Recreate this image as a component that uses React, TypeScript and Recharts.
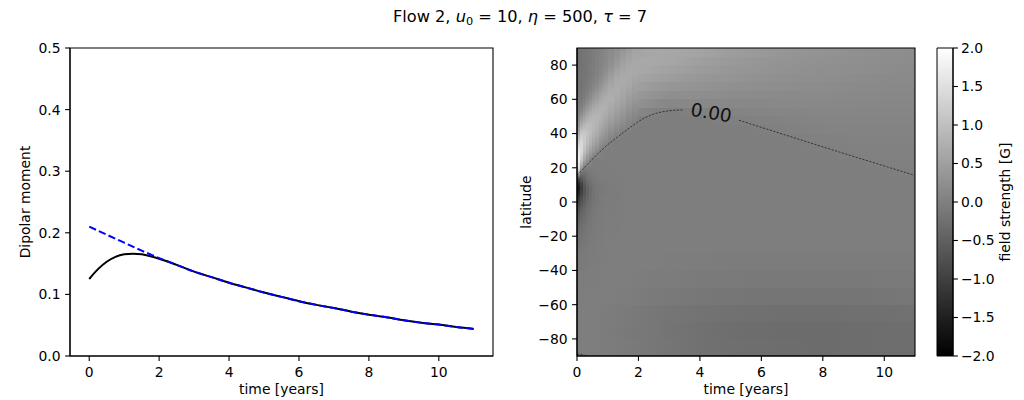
import { ComposedChart, Line, XAxis, YAxis, ReferenceArea, ReferenceDot } from 'recharts'

const FONT = '"DejaVu Sans", sans-serif'

// left panel: dipolar moment over time
const BLACK_T = [0, 0.25, 0.5, 0.75, 1, 1.25, 1.5, 1.75, 2, 2.5, 3, 3.5, 4, 4.5, 5, 5.5, 6, 6.5, 7, 7.5, 8, 8.5, 9, 9.5, 10, 10.5, 11]
const BLACK_V = [0.125, 0.141, 0.153, 0.161, 0.165, 0.166, 0.165, 0.162, 0.158, 0.148, 0.137, 0.128, 0.119, 0.111, 0.103, 0.096, 0.089, 0.083, 0.078, 0.072, 0.067, 0.063, 0.058, 0.054, 0.051, 0.047, 0.044]
const BLUE_T = [0, 0.5, 1, 1.5, 2, 2.5, 3, 3.5, 4, 4.5, 5, 5.5, 6, 6.5, 7, 7.5, 8, 8.5, 9, 9.5, 10, 10.5, 11]
const BLUE_V = [0.21, 0.197, 0.184, 0.171, 0.159, 0.148, 0.137, 0.128, 0.119, 0.111, 0.103, 0.096, 0.089, 0.083, 0.078, 0.072, 0.067, 0.063, 0.058, 0.054, 0.051, 0.047, 0.044]
const TIME_TICKS = [0, 2, 4, 6, 8, 10]
const MOMENT_TICKS = [0, 0.1, 0.2, 0.3, 0.4, 0.5]

// right panel, base layer: latitude bands, each sampled along time at ROW_T
const ROW_T = [0, 0.5, 1, 1.5, 2, 2.5, 3, 4, 5, 6, 7, 8, 9, 10, 11]
const LAT_EDGES = [90, 85, 80, 75, 70, 65, 60, 55, 50, 45, 40, 35, 30, 25, 20, 15, 10, 5, 0, -10, -20, -30, -40, -50, -60, -70, -80, -90]
const ROWS = [
  [-0.22, -0.08, 0.14, 0.38, 0.58, 0.62, 0.62, 0.56, 0.47, 0.4, 0.34, 0.3, 0.26, 0.23, 0.21],
  [-0.22, -0.05, 0.2, 0.48, 0.64, 0.64, 0.6, 0.5, 0.42, 0.36, 0.31, 0.27, 0.24, 0.21, 0.19],
  [-0.21, 0.02, 0.3, 0.6, 0.63, 0.59, 0.54, 0.44, 0.37, 0.32, 0.28, 0.25, 0.22, 0.19, 0.17],
  [-0.2, 0.08, 0.45, 0.66, 0.57, 0.52, 0.46, 0.37, 0.32, 0.28, 0.24, 0.22, 0.2, 0.17, 0.16],
  [-0.18, 0.2, 0.62, 0.66, 0.49, 0.42, 0.36, 0.3, 0.26, 0.23, 0.21, 0.19, 0.17, 0.15, 0.14],
  [-0.14, 0.4, 0.71, 0.58, 0.39, 0.31, 0.24, 0.22, 0.2, 0.18, 0.17, 0.16, 0.15, 0.13, 0.12],
  [-0.06, 0.65, 0.74, 0.48, 0.27, 0.18, 0.12, 0.13, 0.13, 0.13, 0.13, 0.13, 0.12, 0.11, 0.1],
  [0.1, 0.84, 0.66, 0.35, 0.13, 0.03, -0.02, 0.03, 0.06, 0.08, 0.09, 0.1, 0.1, 0.09, 0.08],
  [0.3, 0.86, 0.55, 0.22, -0.01, -0.02, -0.02, -0.02, 0, 0.03, 0.06, 0.07, 0.07, 0.07, 0.07],
  [0.7, 0.72, 0.35, 0.06, -0.02, -0.03, -0.03, -0.03, -0.02, -0.01, 0.03, 0.05, 0.05, 0.05, 0.05],
  [1.1, 0.55, 0.14, -0.02, -0.03, -0.03, -0.03, -0.03, -0.03, -0.03, -0.01, 0.03, 0.04, 0.04, 0.04],
  [1.45, 0.38, 0.02, -0.03, -0.03, -0.03, -0.03, -0.03, -0.03, -0.03, -0.03, 0, 0.02, 0.03, 0.03],
  [1.75, 0.15, -0.03, -0.03, -0.03, -0.03, -0.03, -0.03, -0.03, -0.03, -0.03, -0.02, 0, 0.02, 0.02],
  [1.6, -0.02, -0.04, -0.03, -0.03, -0.03, -0.03, -0.03, -0.03, -0.03, -0.03, -0.03, -0.02, 0, 0.01],
  [0.9, -0.05, -0.04, -0.03, -0.03, -0.03, -0.03, -0.03, -0.03, -0.03, -0.03, -0.03, -0.03, -0.02, 0],
  [-0.9, -0.12, -0.05, -0.04, -0.03, -0.03, -0.03, -0.03, -0.03, -0.03, -0.03, -0.03, -0.03, -0.03, -0.03],
  [-1.5, -0.2, -0.07, -0.05, -0.03, -0.03, -0.03, -0.03, -0.03, -0.03, -0.03, -0.03, -0.03, -0.03, -0.03],
  [-1.1, -0.18, -0.06, -0.05, -0.03, -0.03, -0.03, -0.03, -0.03, -0.03, -0.03, -0.03, -0.03, -0.03, -0.03],
  [-0.6, -0.12, -0.05, -0.04, -0.03, -0.03, -0.03, -0.03, -0.03, -0.03, -0.03, -0.03, -0.03, -0.03, -0.03],
  [-0.3, -0.08, -0.04, -0.03, -0.03, -0.03, -0.03, -0.03, -0.03, -0.03, -0.03, -0.03, -0.03, -0.03, -0.03],
  [-0.15, -0.06, -0.04, -0.03, -0.03, -0.03, -0.03, -0.03, -0.03, -0.03, -0.03, -0.03, -0.03, -0.03, -0.03],
  [-0.1, -0.05, -0.03, -0.03, -0.03, -0.03, -0.04, -0.04, -0.05, -0.05, -0.05, -0.05, -0.05, -0.05, -0.05],
  [-0.06, -0.04, -0.03, -0.03, -0.04, -0.05, -0.06, -0.08, -0.09, -0.1, -0.1, -0.1, -0.1, -0.09, -0.09],
  [-0.04, -0.03, -0.03, -0.04, -0.06, -0.08, -0.1, -0.13, -0.15, -0.16, -0.17, -0.17, -0.16, -0.15, -0.14],
  [-0.03, -0.03, -0.05, -0.07, -0.1, -0.13, -0.16, -0.2, -0.23, -0.25, -0.26, -0.26, -0.25, -0.24, -0.23],
  [-0.02, -0.03, -0.06, -0.08, -0.11, -0.14, -0.18, -0.23, -0.27, -0.29, -0.3, -0.3, -0.29, -0.28, -0.27],
  [-0.02, -0.03, -0.05, -0.07, -0.1, -0.13, -0.17, -0.22, -0.26, -0.28, -0.29, -0.3, -0.29, -0.28, -0.27],
]

// right panel, detail layer for the first two years: time strips, each sampled along latitude at COL_LAT
const COL_EDGES = [0, 0.1, 0.2, 0.3, 0.4, 0.5, 0.6, 0.7, 0.8, 0.9, 1.0, 1.2, 1.4, 1.6, 1.8, 2.0]
const COL_LAT = [90, 85, 80, 75, 70, 65, 60, 55, 50, 45, 40, 35, 30, 25, 20, 17, 14, 11, 8, 5, 2, -5, -15, -30]
const COLUMNS = [
  [-0.22, -0.22, -0.22, -0.21, -0.2, -0.18, -0.14, -0.06, 0.08, 0.32, 0.72, 1.2, 1.62, 1.8, 1.5, 0.7, -0.7, -1.35, -1.55, -1.4, -1.1, -0.62, -0.3, -0.12],
  [-0.2, -0.2, -0.2, -0.2, -0.19, -0.17, -0.11, 0.03, 0.3, 0.69, 1.12, 1.41, 1.42, 1.15, 0.45, -0.2, -0.55, -0.9, -1.05, -0.95, -0.78, -0.45, -0.25, -0.1],
  [-0.17, -0.17, -0.17, -0.17, -0.15, -0.11, -0.01, 0.19, 0.5, 0.86, 1.13, 1.19, 1.0, 0.6, -0.05, -0.25, -0.4, -0.55, -0.68, -0.65, -0.55, -0.35, -0.2, -0.08],
  [-0.14, -0.14, -0.14, -0.13, -0.1, -0.04, 0.11, 0.35, 0.67, 0.94, 1.05, 0.97, 0.73, 0.32, -0.06, -0.15, -0.25, -0.36, -0.45, -0.44, -0.38, -0.25, -0.15, -0.07],
  [-0.1, -0.1, -0.09, -0.08, -0.04, 0.06, 0.24, 0.5, 0.77, 0.93, 0.93, 0.79, 0.51, 0.11, -0.05, -0.1, -0.16, -0.24, -0.3, -0.3, -0.27, -0.18, -0.11, -0.06],
  [-0.06, -0.06, -0.05, -0.03, 0.04, 0.17, 0.38, 0.63, 0.82, 0.88, 0.8, 0.62, 0.34, -0.02, -0.05, -0.07, -0.11, -0.16, -0.2, -0.2, -0.18, -0.13, -0.09, -0.05],
  [-0.02, -0.015, 0, 0.04, 0.12, 0.28, 0.5, 0.71, 0.83, 0.8, 0.69, 0.49, 0.19, -0.03, -0.04, -0.05, -0.08, -0.11, -0.14, -0.14, -0.13, -0.1, -0.07, -0.04],
  [0.03, 0.04, 0.06, 0.12, 0.23, 0.41, 0.61, 0.76, 0.79, 0.68, 0.51, 0.29, 0.04, -0.03, -0.04, -0.05, -0.06, -0.08, -0.1, -0.1, -0.09, -0.07, -0.05, -0.04],
  [0.075, 0.087, 0.12, 0.2, 0.33, 0.52, 0.69, 0.78, 0.72, 0.59, 0.41, 0.19, -0.01, -0.03, -0.04, -0.04, -0.05, -0.07, -0.08, -0.08, -0.07, -0.06, -0.05, -0.04],
  [0.11, 0.13, 0.18, 0.28, 0.44, 0.61, 0.73, 0.74, 0.65, 0.5, 0.32, 0.11, -0.02, -0.03, -0.04, -0.04, -0.05, -0.06, -0.07, -0.07, -0.06, -0.05, -0.04, -0.03],
  [0.16, 0.2, 0.28, 0.41, 0.56, 0.69, 0.73, 0.65, 0.53, 0.38, 0.2, 0, -0.03, -0.03, -0.04, -0.04, -0.04, -0.05, -0.06, -0.06, -0.05, -0.05, -0.04, -0.03],
  [0.25, 0.31, 0.42, 0.55, 0.66, 0.7, 0.64, 0.54, 0.41, 0.26, 0.09, -0.02, -0.03, -0.03, -0.03, -0.04, -0.04, -0.04, -0.05, -0.05, -0.05, -0.04, -0.04, -0.03],
  [0.34, 0.43, 0.54, 0.64, 0.68, 0.64, 0.55, 0.44, 0.3, 0.15, -0.01, -0.03, -0.03, -0.03, -0.03, -0.03, -0.03, -0.04, -0.04, -0.04, -0.04, -0.04, -0.03, -0.03],
  [0.45, 0.53, 0.62, 0.66, 0.63, 0.55, 0.45, 0.34, 0.2, 0.05, -0.02, -0.03, -0.03, -0.03, -0.03, -0.03, -0.03, -0.03, -0.03, -0.03, -0.03, -0.03, -0.03, -0.03],
  [0.54, 0.61, 0.65, 0.63, 0.56, 0.48, 0.37, 0.25, 0.11, -0.01, -0.02, -0.03, -0.03, -0.03, -0.03, -0.03, -0.03, -0.03, -0.03, -0.03, -0.03, -0.03, -0.03, -0.03],
]

// zero contour (split around its label)
const CONTOUR_A_T = [0, 0.25, 0.5, 0.75, 1, 1.25, 1.5, 1.75, 2, 2.25, 2.5, 2.75, 3, 3.45]
const CONTOUR_A_LAT = [15.6, 20.3, 25, 29.5, 33.5, 37, 40.5, 43.8, 47, 49.6, 51.4, 52.6, 53.3, 53.8]
const CONTOUR_B_T = [5.27, 8, 11]
const CONTOUR_B_LAT = [47.8, 32.2, 15.5]
const CONTOUR_C_T = [0, 0.15, 0.3]
const CONTOUR_C_LAT = [-89, -89, -90]
const CONTOUR_LABEL = { t: 4.37, lat: 52.2, text: '0.00' }
const LAT_TICKS = [-80, -60, -40, -20, 0, 20, 40, 60, 80]
const FIELD_TICKS = [-2, -1.5, -1, -0.5, 0, 0.5, 1, 1.5, 2]

const T_MAX = 11

const gray = (v: number) => {
  const l = Math.round(Math.max(0, Math.min(1, (v + 2) / 4)) * 255)
  return `rgb(${l},${l},${l})`
}
const minus = (s: string) => s.replace('-', '\u2212')

const pairs = (ts: number[], vs: number[], key: string) => ts.map((t, i) => ({ t, [key]: vs[i] }))

const tickStyle = { fill: '#000', fontSize: 13.9, fontFamily: FONT }
const axisProps = {
  tick: tickStyle,
  tickLine: { stroke: '#000', strokeWidth: 1.1 },
  axisLine: { stroke: '#000', strokeWidth: 1.1 },
  tickSize: 4.9,
}
const contourStyle = {
  stroke: '#222',
  strokeWidth: 0.8,
  strokeDasharray: '2.2 1.4',
  dot: false,
  isAnimationActive: false,
}

export default function App() {
  const black = pairs(BLACK_T, BLACK_V, 'v')
  const blue = pairs(BLUE_T, BLUE_V, 'v')
  const contourA = pairs(CONTOUR_A_T, CONTOUR_A_LAT, 'lat')
  const contourB = pairs(CONTOUR_B_T, CONTOUR_B_LAT, 'lat')
  const contourC = pairs(CONTOUR_C_T, CONTOUR_C_LAT, 'lat')
  const latTop = COL_LAT[0]
  const latBottom = COL_LAT[COL_LAT.length - 1]

  return (
    <div
      style={{
        position: 'absolute',
        left: 0,
        top: 0,
        width: 1024,
        height: 400,
        background: '#fff',
        fontFamily: FONT,
      }}
    >
      <div style={{ position: 'absolute', left: 0, top: 0 }}>
        <ComposedChart width={512} height={400} margin={{ top: 48, right: 19, bottom: 0, left: 10 }}>
          <XAxis
            type='number'
            dataKey='t'
            domain={[-0.55, 11.55]}
            ticks={TIME_TICKS}
            allowDataOverflow
            height={44}
            tickMargin={6}
            {...axisProps}
          />
          <YAxis
            type='number'
            domain={[0, 0.5]}
            ticks={MOMENT_TICKS}
            allowDataOverflow
            width={60}
            tickMargin={4.5}
            tickFormatter={(v: number) => v.toFixed(1)}
            {...axisProps}
          />
          <Line
            data={black}
            dataKey='v'
            type='monotone'
            stroke='#000'
            strokeWidth={2}
            dot={false}
            isAnimationActive={false}
          />
          <Line
            data={blue}
            dataKey='v'
            type='monotone'
            stroke='#0000ff'
            strokeWidth={2}
            strokeDasharray='7.4 3.2'
            dot={false}
            isAnimationActive={false}
          />
          <ReferenceArea x1={-0.55} x2={11.55} y1={0} y2={0.5} fill='none' fillOpacity={0} stroke='#000' strokeWidth={1.1} />
        </ComposedChart>
      </div>

      <div style={{ position: 'absolute', left: 512, top: 0 }}>
        <ComposedChart width={420} height={400} margin={{ top: 48, right: 17, bottom: 0, left: 0 }}>
          <defs>
            {ROWS.map((row, i) => (
              <linearGradient key={i} id={`heat-row-${i}`} x1='0' y1='0' x2='1' y2='0'>
                {row.map((v, j) => (
                  <stop key={j} offset={ROW_T[j] / T_MAX} stopColor={gray(v)} />
                ))}
              </linearGradient>
            ))}
            {COLUMNS.map((col, i) => (
              <linearGradient key={i} id={`heat-col-${i}`} x1='0' y1='0' x2='0' y2='1'>
                {col.map((v, j) => (
                  <stop key={j} offset={(latTop - COL_LAT[j]) / (latTop - latBottom)} stopColor={gray(v)} />
                ))}
              </linearGradient>
            ))}
          </defs>
          <XAxis
            type='number'
            dataKey='t'
            domain={[0, T_MAX]}
            ticks={TIME_TICKS}
            allowDataOverflow
            height={44}
            tickMargin={6}
            {...axisProps}
          />
          <YAxis
            type='number'
            domain={[-90, 90]}
            ticks={LAT_TICKS}
            allowDataOverflow
            width={65}
            tickMargin={4.5}
            tickFormatter={(v: number) => minus(String(v))}
            {...axisProps}
          />
          {ROWS.map((_, i) => (
            <ReferenceArea
              key={`r${i}`}
              x1={0}
              x2={T_MAX}
              y1={LAT_EDGES[i + 1]}
              y2={LAT_EDGES[i]}
              fill={`url(#heat-row-${i})`}
              fillOpacity={1}
              stroke='none'
              shapeRendering='crispEdges'
            />
          ))}
          {COLUMNS.map((_, i) => (
            <ReferenceArea
              key={`c${i}`}
              x1={COL_EDGES[i]}
              x2={COL_EDGES[i + 1]}
              y1={latBottom}
              y2={latTop}
              fill={`url(#heat-col-${i})`}
              fillOpacity={1}
              stroke='none'
              shapeRendering='crispEdges'
            />
          ))}
          <Line data={contourA} dataKey='lat' type='monotone' {...contourStyle} />
          <Line data={contourB} dataKey='lat' type='linear' {...contourStyle} />
          <Line data={contourC} dataKey='lat' type='linear' {...contourStyle} />
          <ReferenceDot
            x={CONTOUR_LABEL.t}
            y={CONTOUR_LABEL.lat}
            r={0}
            shape={(p: any) => (
              <text
                x={p.cx}
                y={p.cy}
                textAnchor='middle'
                dominantBaseline='central'
                fontSize={18.5}
                fontFamily={FONT}
                fill='#111'
                transform={`rotate(10, ${p.cx}, ${p.cy})`}
              >
                {CONTOUR_LABEL.text}
              </text>
            )}
          />
          <ReferenceArea x1={0} x2={T_MAX} y1={-90} y2={90} fill='none' fillOpacity={0} stroke='#000' strokeWidth={1.1} />
        </ComposedChart>
      </div>

      <div style={{ position: 'absolute', left: 900, top: 0 }}>
        <ComposedChart
          width={124}
          height={400}
          data={FIELD_TICKS.map((v) => ({ x: 0.5, v }))}
          margin={{ top: 48, right: 21, bottom: 44, left: 37 }}
        >
          <defs>
            <linearGradient id='cbar' x1='0' y1='1' x2='0' y2='0'>
              <stop offset={0} stopColor={gray(-2)} />
              <stop offset={1} stopColor={gray(2)} />
            </linearGradient>
          </defs>
          <XAxis type='number' dataKey='x' domain={[0, 1]} hide />
          <YAxis
            type='number'
            orientation='right'
            domain={[-2, 2]}
            ticks={FIELD_TICKS}
            allowDataOverflow
            width={50}
            tickMargin={3}
            tickFormatter={(v: number) => minus(v.toFixed(1))}
            {...axisProps}
          />
          <ReferenceArea
            x1={0}
            x2={1}
            y1={-2}
            y2={2}
            fill='url(#cbar)'
            fillOpacity={1}
            stroke='#000'
            strokeWidth={1}
          />
        </ComposedChart>
      </div>

      <svg
        width={1024}
        height={400}
        style={{ position: 'absolute', left: 0, top: 0, pointerEvents: 'none' }}
        fontFamily={FONT}
      >
        <text x={520} y={22} textAnchor='middle' fontSize={16.2} fill='#000'>
          Flow 2, <tspan fontStyle='italic'>u</tspan>
          <tspan fontSize={11.3} dy={3}>0</tspan>
          <tspan dy={-3}> = 10, </tspan>
          <tspan fontStyle='italic'>η</tspan> = 500, <tspan fontStyle='italic'>τ</tspan> = 7
        </text>
        <text x={281.5} y={394} textAnchor='middle' fontSize={13.9}>
          time [years]
        </text>
        <text x={30} y={202} textAnchor='middle' fontSize={13.9} transform='rotate(-90, 30, 202)'>
          Dipolar moment
        </text>
        <text x={746} y={394} textAnchor='middle' fontSize={13.9}>
          time [years]
        </text>
        <text x={531} y={202} textAnchor='middle' fontSize={13.9} transform='rotate(-90, 531, 202)'>
          latitude
        </text>
        <text x={1010} y={202} textAnchor='middle' fontSize={13.9} transform='rotate(-90, 1010, 202)'>
          field strength [G]
        </text>
      </svg>
    </div>
  )
}
